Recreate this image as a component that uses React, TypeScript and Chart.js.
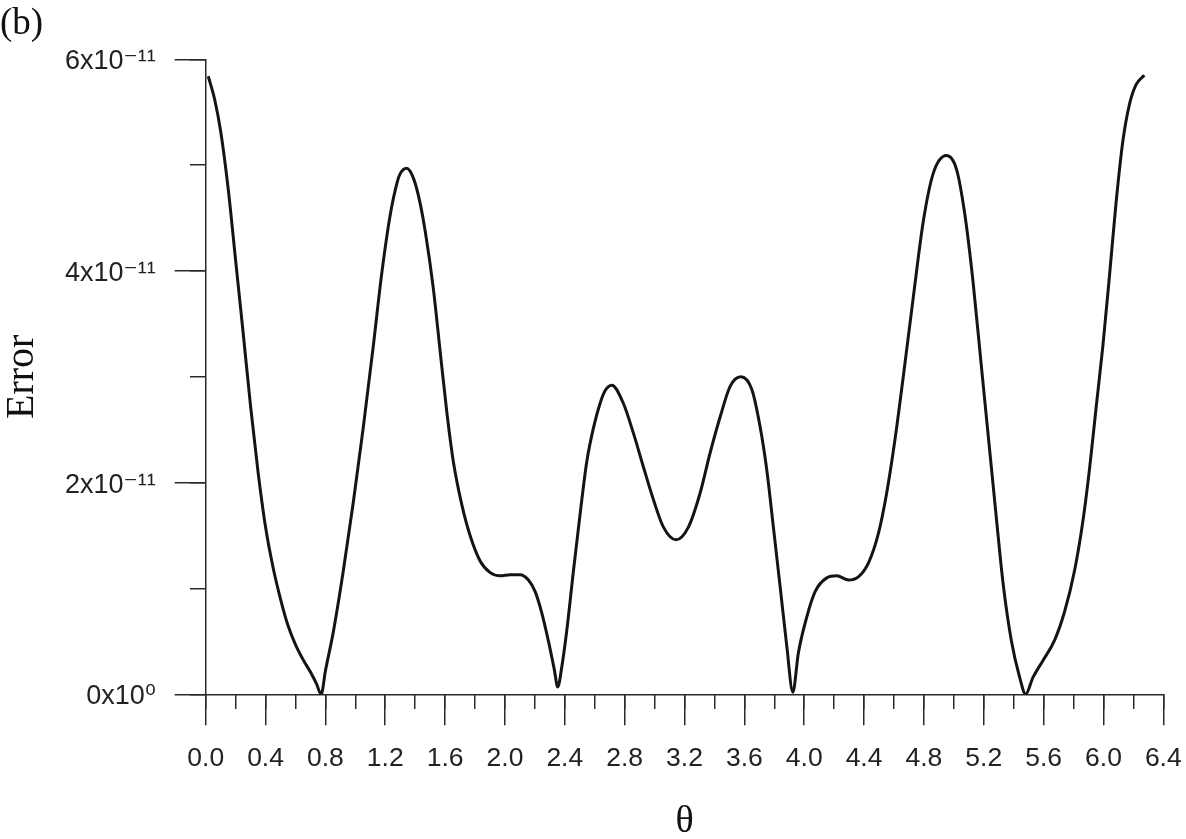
import React, { useEffect, useRef } from 'react';
import { Chart, registerables } from 'chart.js';

Chart.register(...registerables);

// theta values (x) and error values in units of 1e-11 (y)
const theta = [
  0.017, 0.06, 0.10, 0.15, 0.20, 0.25, 0.30, 0.35, 0.40, 0.45, 0.50, 0.55, 0.60, 0.65, 0.70, 0.74, 0.772,
  0.80, 0.853, 0.92, 0.987, 1.053, 1.12, 1.176, 1.232, 1.28, 1.30, 1.343, 1.39, 1.43, 1.47, 1.52, 1.567, 1.612,
  1.656, 1.712, 1.767, 1.834, 1.901, 1.968, 2.035, 2.10, 2.157, 2.202, 2.246, 2.291, 2.329, 2.353,
  2.38, 2.413, 2.458, 2.502, 2.547, 2.592, 2.636, 2.67, 2.714, 2.791, 2.858, 2.925, 2.992, 3.059, 3.144,
  3.226, 3.304, 3.371, 3.438, 3.505, 3.576, 3.65, 3.705, 3.75, 3.794, 3.839, 3.884, 3.924,
  3.961, 4.017, 4.073, 4.151, 4.218, 4.296, 4.362, 4.429, 4.496, 4.551, 4.607, 4.662, 4.729, 4.796, 4.862,
  4.951, 5.018, 5.073, 5.129, 5.184, 5.24, 5.284, 5.329, 5.384, 5.44, 5.48,
  5.529, 5.596, 5.673, 5.74, 5.807, 5.862, 5.907, 5.951, 5.996, 6.04, 6.084, 6.129, 6.173, 6.218, 6.273,
];

const errorE11 = [
  5.84, 5.62, 5.32, 4.78, 4.10, 3.42, 2.72, 2.10, 1.58, 1.20, 0.90, 0.65, 0.47, 0.33, 0.21, 0.10, 0.0,
  0.22, 0.59, 1.17, 1.82, 2.52, 3.29, 3.97, 4.52, 4.84, 4.92, 4.97, 4.87, 4.66, 4.35, 3.85, 3.24, 2.66,
  2.19, 1.79, 1.50, 1.26, 1.15, 1.12, 1.13, 1.13, 1.08, 0.97, 0.77, 0.50, 0.24, 0.07,
  0.26, 0.60, 1.17, 1.70, 2.20, 2.52, 2.75, 2.87, 2.92, 2.75, 2.47, 2.15, 1.84, 1.58, 1.46,
  1.58, 1.90, 2.28, 2.62, 2.91, 3.00, 2.88, 2.53, 2.12, 1.58, 1.02, 0.45, 0.02,
  0.39, 0.73, 0.97, 1.10, 1.12, 1.08, 1.11, 1.24, 1.52, 1.90, 2.41, 3.00, 3.75, 4.47, 4.92,
  5.09, 4.96, 4.54, 3.89, 3.10, 2.30, 1.67, 1.05, 0.51, 0.16, 0.0,
  0.16, 0.32, 0.51, 0.78, 1.17, 1.63, 2.13, 2.71, 3.29, 3.95, 4.64, 5.22, 5.57, 5.76, 5.85,
];

const xTickLabels = [
  '0.0', '0.4', '0.8', '1.2', '1.6', '2.0', '2.4', '2.8', '3.2',
  '3.6', '4.0', '4.4', '4.8', '5.2', '5.6', '6.0', '6.4',
];
const yTickLabels = ['0x10\u2070', '2x10\u207B\u00B9\u00B9', '4x10\u207B\u00B9\u00B9', '6x10\u207B\u00B9\u00B9'];

const xTitle = '\u03B8';
const yTitle = 'Error';
const panelLabel = '(b)';

const SANS = "'Liberation Sans', 'DejaVu Sans', sans-serif";
const SERIF = "'Liberation Serif', 'DejaVu Serif', serif";

export default function App() {
  const ref = useRef<HTMLCanvasElement>(null);

  useEffect(() => {
    const canvas = ref.current;
    if (!canvas) return;
    const axisColor = '#2a2a2a';
    const axisWidth = 1.5;

    const chart = new Chart(canvas, {
      type: 'line',
      data: {
        datasets: [
          {
            data: theta.map((t, i) => ({ x: t, y: errorE11[i] })),
            xAxisID: 'x',
            yAxisID: 'y',
            borderColor: '#141414',
            borderWidth: 3,
            pointRadius: 0,
            fill: false,
            cubicInterpolationMode: 'monotone',
          },
        ],
      },
      options: {
        responsive: false,
        animation: false,
        events: [],
        layout: { padding: { left: 0, right: 22.7, top: 0, bottom: 0 } },
        plugins: {
          legend: { display: false },
          tooltip: { enabled: false },
          title: {
            display: true,
            text: panelLabel,
            align: 'start',
            color: '#111',
            font: { family: SERIF, size: 37, weight: 'normal', lineHeight: 1.2 },
            padding: { top: 2.5, bottom: 12.4 },
          },
        },
        scales: {
          x: {
            type: 'linear',
            position: 'bottom',
            min: 0,
            max: 6.4,
            afterFit: (s: any) => {
              s.height = 144.7;
              s.paddingRight = 0;
            },
            border: { display: true, color: axisColor, width: axisWidth },
            grid: {
              display: true,
              drawOnChartArea: false,
              drawTicks: true,
              tickLength: 31,
              color: axisColor,
              lineWidth: axisWidth,
            },
            ticks: {
              stepSize: 0.4,
              maxTicksLimit: 100,
              autoSkip: false,
              maxRotation: 0,
              minRotation: 0,
              padding: 17,
              color: '#222',
              font: { family: SANS, size: 26.5 },
              callback: (_v: any, i: number) => xTickLabels[i],
            },
            title: {
              display: true,
              text: xTitle,
              color: '#111',
              font: { family: SERIF, size: 38, lineHeight: 0.9 },
              padding: 0,
            },
          },
          xMinor: {
            axis: 'x',
            type: 'linear',
            position: { y: 0 },
            min: 0,
            max: 6.4,
            border: { display: false },
            grid: {
              display: true,
              drawOnChartArea: false,
              drawTicks: true,
              tickLength: 15,
              color: axisColor,
              lineWidth: axisWidth,
            },
            ticks: { stepSize: 0.2, maxTicksLimit: 100, autoSkip: false, display: false },
          },
          y: {
            type: 'linear',
            position: 'left',
            min: 0,
            max: 6,
            afterFit: (s: any) => {
              s.width = 205.7;
            },
            border: { display: true, color: axisColor, width: axisWidth },
            grid: {
              display: true,
              drawOnChartArea: false,
              drawTicks: true,
              tickLength: 31,
              color: axisColor,
              lineWidth: axisWidth,
            },
            ticks: {
              stepSize: 2,
              autoSkip: false,
              padding: 19,
              labelOffset: 2.5,
              color: '#222',
              font: { family: SANS, size: 27 },
              callback: (_v: any, i: number) => yTickLabels[i],
            },
            title: {
              display: true,
              text: yTitle,
              color: '#111',
              font: { family: SERIF, size: 40, lineHeight: 1.1 },
              padding: 0,
            },
          },
          yMinor: {
            axis: 'y',
            type: 'linear',
            position: { x: 0 },
            min: 0,
            max: 6,
            border: { display: false },
            grid: {
              display: true,
              drawOnChartArea: false,
              drawTicks: true,
              tickLength: 16,
              color: axisColor,
              lineWidth: axisWidth,
            },
            ticks: { stepSize: 1, autoSkip: false, display: false },
          },
        },
      } as any,
    });

    return () => chart.destroy();
  }, []);

  return (
    <div style={{ position: 'absolute', left: 0, top: 0, width: 1186, height: 839, background: '#fff' }}>
      <canvas ref={ref} width={1186} height={839} style={{ display: 'block', width: 1186, height: 839 }} />
    </div>
  );
}
